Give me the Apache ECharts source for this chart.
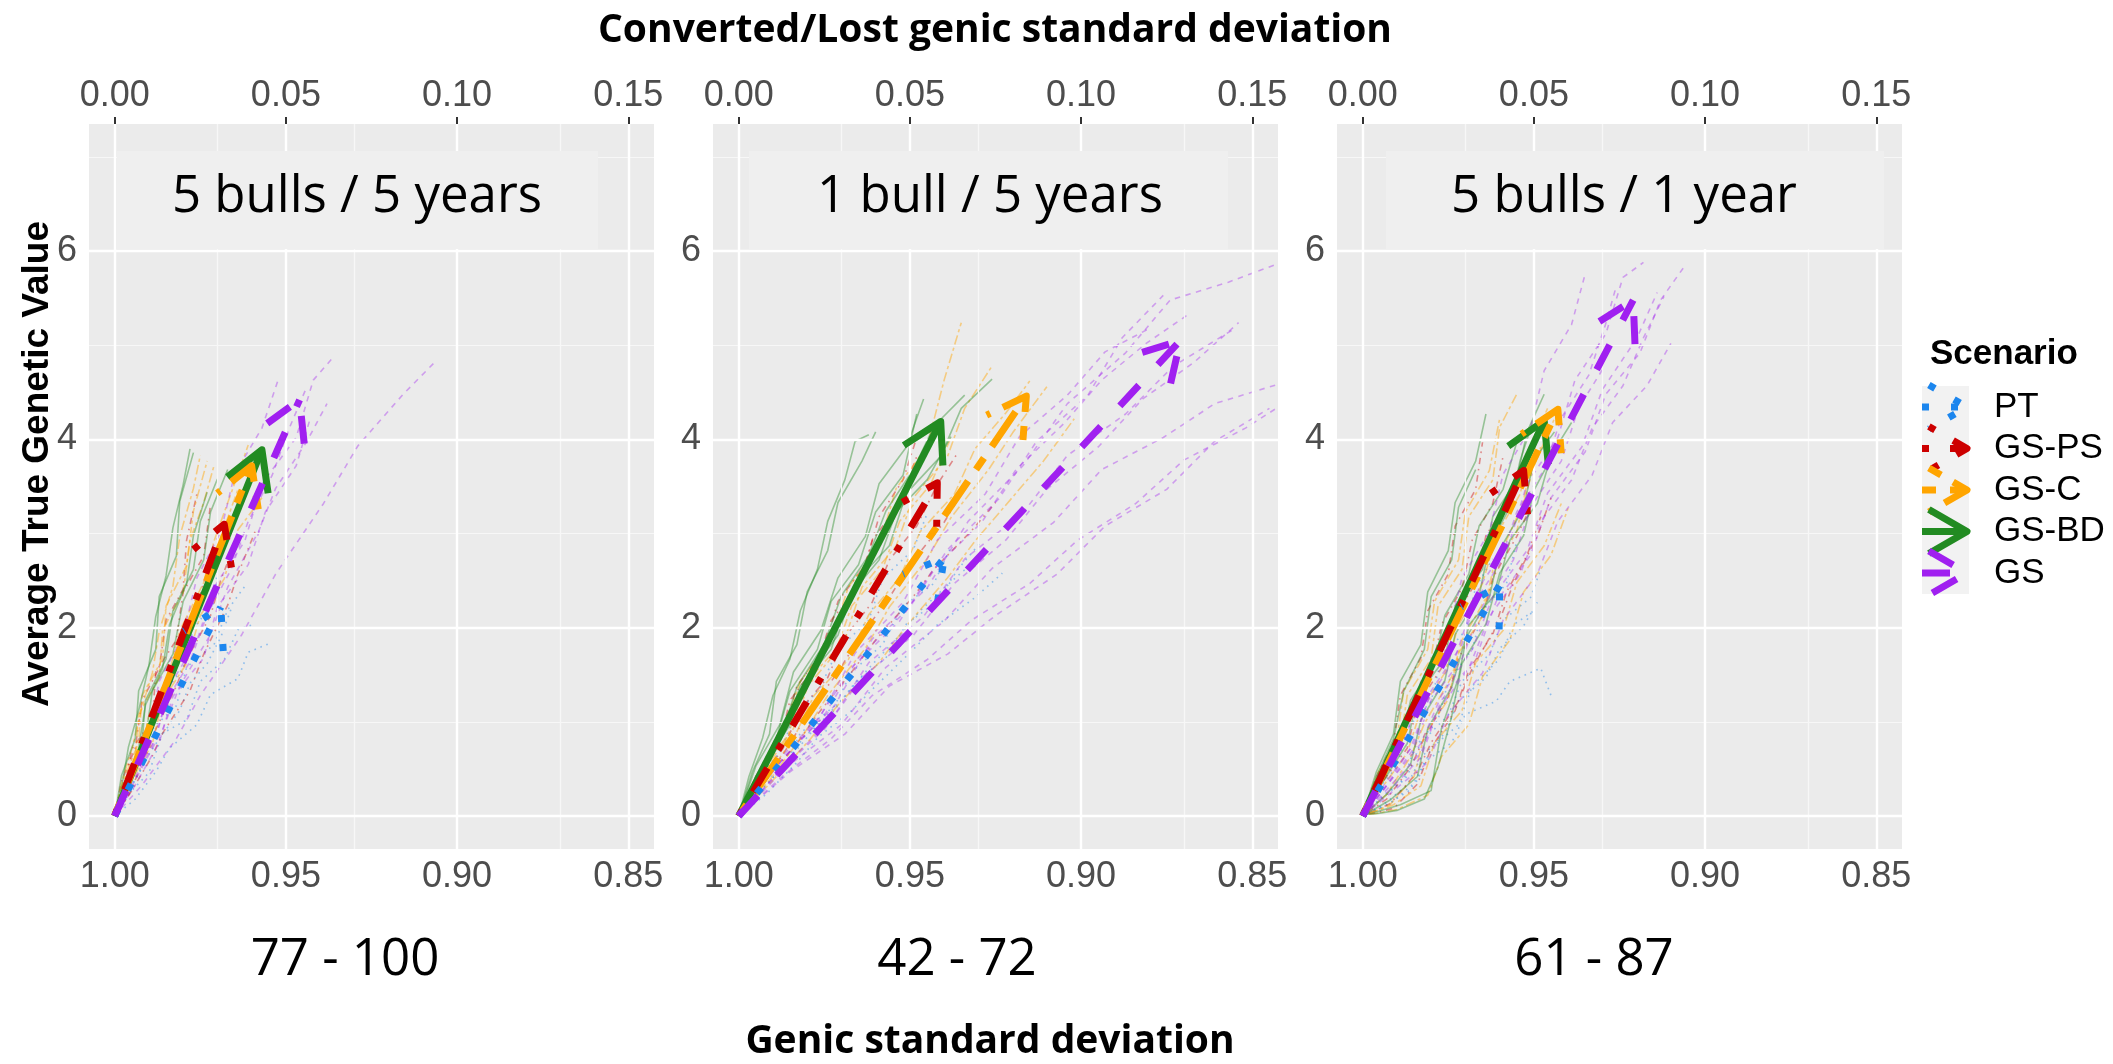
<!DOCTYPE html>
<html>
<head>
<meta charset="utf-8">
<script src="https://cdn.jsdelivr.net/npm/echarts@6/dist/echarts.min.js"></script>
<style>
html, body { margin: 0; padding: 0; background: #fff; }
#chart { width: 2113px; height: 1064px; }
</style>
</head>
<body>
<div id="chart"></div>
<script>
// scenarios, in legend order
const scenarios = ['PT', 'GS-PS', 'GS-C', 'GS-BD', 'GS'];
const panelTitles = ['5 bulls / 5 years', '1 bull / 5 years', '5 bulls / 1 year'];
const panelRanges = ['77 - 100', '42 - 72', '61 - 87'];
const xTicks = [0, 0.05, 0.10, 0.15];
const xMinor = [0.025, 0.075, 0.125];
const yTicks = [0, 2, 4, 6];
const yMinor = [1, 3, 5, 7];

// mean end point (converted/lost genic sd, average TGV) per scenario
const mean55 = [[0.031, 2.22], [0.032, 3.10], [0.040, 3.72], [0.043, 3.89], [0.054, 4.42]];
const mean15 = [[0.060, 2.74], [0.058, 3.54], [0.084, 4.46], [0.059, 4.19], [0.129, 5.05]];
const mean51 = [[0.040, 2.45], [0.047, 3.67], [0.057, 4.32], [0.053, 4.20], [0.079, 5.48]];

// single replicates, 5 bulls / 5 years
const p55PT = [
  [[0,0],[0.003,0.22],[0.008,0.51],[0.011,0.93],[0.018,1.17],[0.021,1.58],[0.029,1.82],[0.033,2.19],[0.038,2.44]],
  [[0,0],[0.005,0.27],[0.010,0.46],[0.014,0.88],[0.021,1.02],[0.025,1.43],[0.032,1.66],[0.036,1.98],[0.041,2.04]],
  [[0,0],[0.004,0.33],[0.006,0.62],[0.012,0.97],[0.015,1.34],[0.020,1.57],[0.023,1.99],[0.029,2.27],[0.030,2.61]],
  [[0,0],[0.006,0.18],[0.012,0.47],[0.016,0.72],[0.024,0.97],[0.028,1.29],[0.036,1.46],[0.039,1.74],[0.045,1.83]],
  [[0,0],[0.004,0.24],[0.009,0.60],[0.013,0.82],[0.019,1.12],[0.022,1.41],[0.027,1.62],[0.031,1.90],[0.034,2.20]]
];
const p55PS = [
  [[0,0],[0.003,0.32],[0.005,0.71],[0.011,1.02],[0.012,1.53],[0.018,1.87],[0.020,2.38],[0.026,2.76],[0.028,3.31]],
  [[0,0],[0.004,0.22],[0.009,0.63],[0.012,0.92],[0.018,1.38],[0.021,1.66],[0.028,2.13],[0.031,2.51],[0.036,2.97]],
  [[0,0],[0.002,0.37],[0.006,0.72],[0.008,1.23],[0.013,1.57],[0.015,2.08],[0.020,2.41],[0.021,2.93],[0.024,3.42]],
  [[0,0],[0.005,0.27],[0.011,0.64],[0.014,0.88],[0.022,1.33],[0.026,1.72],[0.033,2.24],[0.036,2.57],[0.041,3.02]],
  [[0,0],[0.003,0.26],[0.007,0.58],[0.010,0.96],[0.015,1.27],[0.018,1.71],[0.023,2.05],[0.026,2.49],[0.031,2.78]]
];
const p55C = [
  [[0,0],[0.003,0.42],[0.007,0.78],[0.008,1.28],[0.014,1.67],[0.015,2.23],[0.021,2.66],[0.023,3.24],[0.027,3.77]],
  [[0,0],[0.004,0.33],[0.009,0.78],[0.012,1.12],[0.018,1.63],[0.021,2.02],[0.028,2.53],[0.031,2.96],[0.036,3.47]],
  [[0,0],[0.003,0.28],[0.008,0.73],[0.010,1.07],[0.016,1.53],[0.019,1.97],[0.026,2.48],[0.029,2.92],[0.035,3.53],[0.039,3.94]],
  [[0,0],[0.005,0.38],[0.011,0.77],[0.014,1.23],[0.021,1.62],[0.025,2.13],[0.032,2.52],[0.036,3.04],[0.043,3.38]],
  [[0,0],[0.002,0.32],[0.006,0.62],[0.007,1.08],[0.013,1.47],[0.014,1.98],[0.020,2.37],[0.022,2.93],[0.026,3.33],[0.029,3.72]],
  [[0,0],[0.002,0.36],[0.005,0.71],[0.008,1.16],[0.011,1.52],[0.013,1.96],[0.017,2.44],[0.019,2.97],[0.023,3.48],[0.025,3.83]]
];
const p55BD = [
  [[0,0],[0.002,0.43],[0.006,0.82],[0.007,1.33],[0.012,1.77],[0.013,2.33],[0.018,2.76],[0.019,3.34],[0.023,3.86]],
  [[0,0],[0.003,0.37],[0.008,0.77],[0.009,1.23],[0.015,1.67],[0.017,2.18],[0.023,2.62],[0.025,3.13],[0.030,3.58]],
  [[0,0],[0.004,0.42],[0.009,0.82],[0.011,1.33],[0.017,1.72],[0.020,2.28],[0.026,2.72],[0.028,3.23],[0.033,3.68]],
  [[0,0],[0.003,0.32],[0.007,0.72],[0.009,1.18],[0.014,1.57],[0.016,2.03],[0.021,2.47],[0.023,2.98],[0.027,3.44]],
  [[0,0],[0.002,0.30],[0.004,0.73],[0.007,1.12],[0.010,1.60],[0.012,2.12],[0.015,2.55],[0.017,3.06],[0.020,3.52],[0.022,3.90]]
];
const p55GS = [
  [[0,0],[0.005,0.42],[0.012,0.82],[0.016,1.38],[0.024,1.86],[0.029,2.43],[0.038,2.92],[0.043,3.53],[0.053,4.02],[0.058,4.63],[0.064,4.88]],
  [[0,0],[0.006,0.33],[0.013,0.78],[0.017,1.27],[0.026,1.68],[0.030,2.22],[0.039,2.67],[0.044,3.23],[0.053,3.72],[0.057,4.21]],
  [[0,0],[0.004,0.47],[0.010,0.87],[0.013,1.43],[0.020,1.92],[0.024,2.53],[0.031,3.02],[0.035,3.63],[0.043,4.12],[0.048,4.66]],
  [[0,0],[0.008,0.33],[0.018,0.82],[0.025,1.28],[0.037,1.92],[0.047,2.57],[0.061,3.32],[0.071,3.93],[0.084,4.47],[0.094,4.84]],
  [[0,0],[0.006,0.38],[0.014,0.92],[0.019,1.38],[0.028,1.93],[0.033,2.43],[0.042,3.02],[0.047,3.48],[0.056,3.97],[0.062,4.38]],
  [[0,0],[0.005,0.35],[0.011,0.74],[0.015,1.22],[0.022,1.64],[0.027,2.14],[0.034,2.62],[0.039,3.13],[0.046,3.62],[0.051,4.12],[0.056,4.55]]
];

// single replicates, 1 bull / 5 years
const p15PT = [
  [[0,0],[0.006,0.32],[0.014,0.57],[0.018,0.88],[0.028,1.17],[0.033,1.53],[0.042,1.82],[0.048,2.23],[0.057,2.47],[0.062,2.86]],
  [[0,0],[0.008,0.23],[0.017,0.57],[0.023,0.83],[0.033,1.12],[0.040,1.38],[0.051,1.77],[0.058,2.03],[0.069,2.32],[0.077,2.58]],
  [[0,0],[0.005,0.37],[0.012,0.68],[0.016,1.03],[0.024,1.38],[0.029,1.77],[0.038,2.08],[0.042,2.52],[0.051,2.83],[0.055,3.21]],
  [[0,0],[0.007,0.28],[0.015,0.62],[0.021,0.88],[0.031,1.27],[0.037,1.53],[0.047,1.92],[0.053,2.18],[0.063,2.52],[0.070,2.74]],
  [[0,0],[0.006,0.26],[0.013,0.52],[0.019,0.84],[0.027,1.08],[0.034,1.42],[0.043,1.68],[0.049,2.04],[0.058,2.28],[0.064,2.62],[0.071,2.92]]
];
const p15PS = [
  [[0,0],[0.005,0.42],[0.012,0.78],[0.015,1.23],[0.023,1.62],[0.027,2.08],[0.035,2.43],[0.039,2.93],[0.047,3.32],[0.052,3.82]],
  [[0,0],[0.007,0.33],[0.015,0.77],[0.020,1.08],[0.029,1.53],[0.035,1.88],[0.044,2.32],[0.050,2.67],[0.060,3.12],[0.066,3.48]],
  [[0,0],[0.006,0.47],[0.013,0.88],[0.017,1.38],[0.025,1.77],[0.029,2.28],[0.037,2.67],[0.041,3.18],[0.048,3.57],[0.052,4.02]],
  [[0,0],[0.008,0.38],[0.017,0.77],[0.023,1.08],[0.033,1.53],[0.040,1.87],[0.051,2.33],[0.057,2.62],[0.068,3.03],[0.075,3.33]],
  [[0,0],[0.006,0.37],[0.013,0.72],[0.018,1.13],[0.026,1.47],[0.031,1.90],[0.039,2.27],[0.044,2.72],[0.052,3.08],[0.058,3.52],[0.064,3.86]]
];
const p15C = [
  [[0,0],[0.006,0.47],[0.013,0.92],[0.018,1.43],[0.027,1.87],[0.032,2.43],[0.041,2.87],[0.046,3.48],[0.055,3.92],[0.060,4.63],[0.065,5.24]],
  [[0,0],[0.009,0.38],[0.019,0.87],[0.026,1.28],[0.037,1.78],[0.044,2.22],[0.055,2.73],[0.062,3.17],[0.073,3.68],[0.080,4.07],[0.090,4.56]],
  [[0,0],[0.007,0.52],[0.016,0.93],[0.021,1.47],[0.031,1.88],[0.036,2.43],[0.046,2.87],[0.051,3.38],[0.061,3.82],[0.066,4.33],[0.074,4.78]],
  [[0,0],[0.010,0.38],[0.021,0.82],[0.029,1.18],[0.041,1.63],[0.049,2.02],[0.061,2.53],[0.069,2.92],[0.081,3.43],[0.089,3.77],[0.098,4.22]],
  [[0,0],[0.006,0.42],[0.014,0.82],[0.019,1.33],[0.028,1.72],[0.033,2.23],[0.042,2.62],[0.047,3.13],[0.056,3.52],[0.062,4.02]],
  [[0,0],[0.008,0.42],[0.016,0.82],[0.022,1.28],[0.032,1.66],[0.038,2.14],[0.047,2.53],[0.053,3.02],[0.063,3.42],[0.069,3.90],[0.078,4.28],[0.085,4.62]]
];
const p15BD = [
  [[0,0],[0.004,0.47],[0.009,0.87],[0.011,1.43],[0.017,1.82],[0.020,2.38],[0.026,2.82],[0.029,3.33],[0.036,3.77],[0.040,4.08]],
  [[0,0],[0.007,0.52],[0.015,0.97],[0.020,1.48],[0.029,1.92],[0.034,2.48],[0.044,2.87],[0.049,3.43],[0.059,3.82],[0.065,4.33],[0.074,4.64]],
  [[0,0],[0.005,0.53],[0.012,0.97],[0.016,1.53],[0.024,1.97],[0.029,2.53],[0.037,2.97],[0.041,3.53],[0.049,3.92],[0.054,4.43]],
  [[0,0],[0.006,0.47],[0.013,0.87],[0.018,1.38],[0.027,1.77],[0.032,2.33],[0.041,2.72],[0.046,3.23],[0.055,3.57],[0.062,4.03]],
  [[0,0],[0.005,0.42],[0.011,0.82],[0.015,1.33],[0.023,1.77],[0.027,2.28],[0.035,2.67],[0.040,3.23],[0.048,3.62],[0.052,4.27]],
  [[0,0],[0.003,0.42],[0.007,0.83],[0.010,1.28],[0.015,1.67],[0.018,2.18],[0.023,2.62],[0.026,3.13],[0.031,3.57],[0.034,3.98],[0.038,4.05]],
  [[0,0],[0.006,0.45],[0.013,0.92],[0.017,1.37],[0.025,1.83],[0.030,2.34],[0.038,2.77],[0.043,3.24],[0.051,3.68],[0.057,4.14],[0.066,4.47]]
];
const p15GS = [
  [[0,0],[0.013,0.62],[0.028,1.17],[0.039,1.88],[0.055,2.42],[0.067,3.13],[0.083,3.72],[0.096,4.38],[0.113,4.92],[0.126,5.48],[0.143,5.67],[0.157,5.86]],
  [[0,0],[0.014,0.52],[0.030,0.97],[0.043,1.58],[0.060,2.07],[0.074,2.63],[0.092,3.12],[0.106,3.68],[0.124,4.02],[0.139,4.38],[0.157,4.58]],
  [[0,0],[0.012,0.57],[0.025,1.07],[0.035,1.68],[0.050,2.22],[0.061,2.83],[0.076,3.37],[0.087,3.98],[0.102,4.47],[0.112,5.08],[0.124,5.53]],
  [[0,0],[0.015,0.47],[0.031,0.87],[0.044,1.38],[0.061,1.72],[0.075,2.13],[0.093,2.57],[0.107,3.08],[0.125,3.47],[0.139,3.98],[0.155,4.33]],
  [[0,0],[0.011,0.57],[0.024,1.07],[0.034,1.73],[0.048,2.27],[0.058,2.93],[0.072,3.42],[0.082,4.03],[0.096,4.47],[0.107,4.93],[0.120,5.18]],
  [[0,0],[0.013,0.52],[0.027,1.02],[0.038,1.63],[0.054,2.12],[0.066,2.73],[0.083,3.22],[0.096,3.83],[0.113,4.27],[0.127,4.78],[0.145,5.18]],
  [[0,0],[0.012,0.48],[0.025,0.92],[0.036,1.47],[0.051,1.92],[0.063,2.47],[0.078,2.93],[0.090,3.47],[0.105,3.92],[0.118,4.43],[0.133,4.82],[0.146,5.24]],
  [[0,0],[0.013,0.43],[0.027,0.82],[0.039,1.28],[0.055,1.66],[0.068,2.08],[0.085,2.47],[0.099,2.93],[0.116,3.32],[0.130,3.78],[0.148,4.12],[0.157,4.33]],
  [[0,0],[0.011,0.52],[0.023,1.02],[0.033,1.58],[0.047,2.07],[0.057,2.63],[0.071,3.12],[0.081,3.68],[0.095,4.17],[0.106,4.63],[0.119,5.02],[0.131,5.32]]
];

// single replicates, 5 bulls / 1 year
const p51PT = [
  [[0,0],[0.005,0.17],[0.012,0.38],[0.015,0.72],[0.022,1.02],[0.025,1.43],[0.032,1.77],[0.035,2.18],[0.042,2.47],[0.045,2.92]],
  [[0,0],[0.007,0.12],[0.014,0.28],[0.018,0.57],[0.026,0.78],[0.030,1.08],[0.039,1.22],[0.043,1.43],[0.052,1.57],[0.055,1.28]],
  [[0,0],[0.004,0.27],[0.010,0.52],[0.013,0.93],[0.020,1.22],[0.023,1.68],[0.030,1.97],[0.033,2.43],[0.038,2.73]],
  [[0,0],[0.006,0.22],[0.013,0.42],[0.017,0.78],[0.025,1.07],[0.029,1.43],[0.037,1.72],[0.041,2.08],[0.049,2.32],[0.052,2.62]],
  [[0,0],[0.008,0.13],[0.016,0.38],[0.020,0.72],[0.028,0.97],[0.032,1.38],[0.040,1.67],[0.044,2.03],[0.050,2.18]],
  [[0,0],[0.006,0.12],[0.013,0.33],[0.017,0.62],[0.024,0.88],[0.028,1.22],[0.036,1.47],[0.040,1.78],[0.047,2.02],[0.051,2.27]]
];
const p51PS = [
  [[0,0],[0.005,0.32],[0.011,0.68],[0.014,1.13],[0.020,1.52],[0.023,2.03],[0.029,2.42],[0.032,2.93],[0.038,3.32],[0.041,3.82]],
  [[0,0],[0.007,0.18],[0.014,0.52],[0.018,0.83],[0.025,1.27],[0.028,1.68],[0.035,2.12],[0.038,2.53],[0.045,2.97],[0.049,3.28]],
  [[0,0],[0.004,0.42],[0.009,0.78],[0.011,1.28],[0.017,1.68],[0.019,2.18],[0.025,2.57],[0.027,3.08],[0.033,3.47],[0.035,3.97]],
  [[0,0],[0.008,0.13],[0.016,0.47],[0.020,0.78],[0.028,1.22],[0.032,1.57],[0.040,2.08],[0.044,2.47],[0.051,2.97],[0.055,3.38]],
  [[0,0],[0.006,0.37],[0.013,0.72],[0.016,1.18],[0.023,1.57],[0.026,2.08],[0.033,2.47],[0.036,2.98],[0.043,3.37],[0.046,3.72]],
  [[0,0],[0.009,0.08],[0.016,0.34],[0.020,0.72],[0.027,1.12],[0.031,1.55],[0.038,1.93],[0.042,2.38],[0.048,2.77],[0.052,3.18]]
];
const p51C = [
  [[0,0],[0.005,0.37],[0.011,0.77],[0.013,1.28],[0.020,1.67],[0.022,2.23],[0.029,2.62],[0.031,3.18],[0.038,3.57],[0.040,4.13],[0.045,4.48]],
  [[0,0],[0.007,0.23],[0.014,0.63],[0.018,0.98],[0.026,1.48],[0.029,1.87],[0.037,2.38],[0.040,2.77],[0.047,3.33],[0.050,3.72],[0.056,4.22]],
  [[0,0],[0.009,0.12],[0.017,0.32],[0.021,0.78],[0.029,1.12],[0.033,1.63],[0.041,1.97],[0.045,2.48],[0.053,2.87],[0.058,3.32]],
  [[0,0],[0.004,0.43],[0.010,0.82],[0.012,1.33],[0.019,1.77],[0.021,2.28],[0.028,2.72],[0.030,3.23],[0.037,3.67],[0.040,4.22]],
  [[0,0],[0.006,0.32],[0.013,0.67],[0.017,1.13],[0.024,1.52],[0.028,2.03],[0.035,2.47],[0.039,2.98],[0.046,3.42],[0.049,3.93],[0.054,4.33]],
  [[0,0],[0.010,0.07],[0.019,0.22],[0.023,0.63],[0.031,0.97],[0.035,1.48],[0.043,1.87],[0.047,2.38],[0.055,2.77],[0.060,3.27]],
  [[0,0],[0.008,0.12],[0.015,0.42],[0.018,0.86],[0.025,1.24],[0.028,1.73],[0.035,2.12],[0.038,2.61],[0.045,3.02],[0.048,3.53],[0.052,3.92]]
];
const p51BD = [
  [[0,0],[0.004,0.47],[0.009,0.87],[0.011,1.43],[0.017,1.82],[0.019,2.38],[0.025,2.82],[0.027,3.33],[0.033,3.77],[0.036,4.27]],
  [[0,0],[0.006,0.37],[0.013,0.77],[0.016,1.28],[0.024,1.67],[0.027,2.23],[0.035,2.62],[0.038,3.18],[0.045,3.57],[0.048,4.08],[0.053,4.48]],
  [[0,0],[0.008,0.17],[0.016,0.42],[0.019,0.93],[0.026,1.37],[0.030,1.88],[0.037,2.32],[0.040,2.83],[0.047,3.27],[0.050,3.78],[0.056,4.08]],
  [[0,0],[0.005,0.32],[0.011,0.72],[0.014,1.23],[0.021,1.62],[0.024,2.13],[0.031,2.57],[0.034,3.08],[0.041,3.47],[0.045,3.97]],
  [[0,0],[0.011,0.12],[0.020,0.27],[0.023,0.93],[0.028,1.47],[0.031,2.03],[0.039,2.37],[0.043,2.93],[0.051,3.32],[0.055,3.83],[0.061,4.18]],
  [[0,0],[0.004,0.42],[0.009,0.82],[0.012,1.33],[0.018,1.77],[0.020,2.33],[0.026,2.72],[0.028,3.28],[0.033,3.68]],
  [[0,0],[0.010,0.06],[0.018,0.18],[0.022,0.52],[0.026,1.06],[0.029,1.62],[0.036,2.04],[0.040,2.58],[0.047,2.98],[0.050,3.46],[0.056,3.87]],
  [[0,0],[0.007,0.23],[0.014,0.55],[0.017,1.02],[0.024,1.44],[0.027,1.93],[0.034,2.34],[0.037,2.87],[0.043,3.28],[0.046,3.78],[0.050,4.22]]
];
const p51GS = [
  [[0,0],[0.007,0.37],[0.015,0.77],[0.020,1.33],[0.029,1.82],[0.034,2.43],[0.043,2.92],[0.048,3.53],[0.057,4.02],[0.062,4.63],[0.071,5.12],[0.076,5.72],[0.082,5.88]],
  [[0,0],[0.008,0.32],[0.017,0.67],[0.023,1.23],[0.033,1.67],[0.039,2.28],[0.049,2.77],[0.055,3.38],[0.065,3.87],[0.071,4.48],[0.081,4.92],[0.087,5.48],[0.094,5.84]],
  [[0,0],[0.006,0.42],[0.013,0.87],[0.017,1.43],[0.025,1.92],[0.029,2.53],[0.037,3.02],[0.041,3.63],[0.049,4.12],[0.053,4.73],[0.061,5.22],[0.065,5.76]],
  [[0,0],[0.009,0.27],[0.019,0.57],[0.025,1.08],[0.035,1.52],[0.041,2.08],[0.051,2.57],[0.057,3.13],[0.067,3.62],[0.073,4.18],[0.083,4.57],[0.090,5.02]],
  [[0,0],[0.007,0.32],[0.015,0.72],[0.020,1.23],[0.029,1.67],[0.035,2.23],[0.044,2.72],[0.049,3.28],[0.058,3.77],[0.063,4.33],[0.070,4.74]],
  [[0,0],[0.008,0.37],[0.017,0.77],[0.023,1.28],[0.032,1.77],[0.038,2.33],[0.048,2.82],[0.054,3.43],[0.064,3.92],[0.070,4.53],[0.080,5.07],[0.086,5.56]],
  [[0,0],[0.008,0.28],[0.017,0.62],[0.022,1.12],[0.031,1.57],[0.037,2.12],[0.046,2.57],[0.052,3.13],[0.061,3.57],[0.067,4.12],[0.076,4.57],[0.082,5.08],[0.088,5.52]],
  [[0,0],[0.007,0.33],[0.014,0.72],[0.019,1.22],[0.027,1.68],[0.032,2.23],[0.040,2.68],[0.045,3.23],[0.053,3.68],[0.058,4.23],[0.066,4.68],[0.071,5.23],[0.074,5.62]]
];

const panelMeans = [mean55, mean15, mean51];
const panelReps = [
  [p55PT, p55PS, p55C, p55BD, p55GS],
  [p15PT, p15PS, p15C, p15BD, p15GS],
  [p51PT, p51PS, p51C, p51BD, p51GS]
];

// styles (ggplot-like line types)
const colors = ['#1c86ee', '#cd0000', '#ffa500', '#228b22', '#a020f0'];
const arrowDash = [[7, 22], [7, 21, 28, 21], [14, 14, 42, 14], null, [28, 28]];
const thinDash = [[1.6, 4.8], [1.6, 4.8, 6.4, 4.8], [3.2, 3.2, 9.6, 3.2], null, [5.5, 5.5]];
const thinOpacity = [0.45, 0.42, 0.45, 0.42, 0.38];
const drawOrder = [3, 2, 1, 0, 4];
const gridLefts = [89, 713, 1337];
const gridTop = 124, gridW = 565, gridH = 725;
const headLen = 44;

const chart = echarts.init(document.getElementById('chart'));

const grid = [], xAxis = [], yAxis = [], series = [];
const tickStyle = { show: true, length: 7, lineStyle: { color: '#333333', width: 2 } };
const labelFont = { fontSize: 36, color: '#4d4d4d', fontFamily: 'Liberation Sans, Arial, sans-serif' };
const majorLine = { color: '#ffffff', width: 2.4, type: 'solid' };
const minorLine = { color: '#f7f7f7', width: 1.2, type: 'solid' };

function arrowStyle(s) {
  return { stroke: colors[s], fill: null, lineWidth: 7, lineDash: arrowDash[s], lineCap: 'butt', lineJoin: 'round' };
}

gridLefts.forEach((left, k) => {
  grid.push({ left: left, top: gridTop, width: gridW, height: gridH, show: true, backgroundColor: '#ebebeb', borderWidth: 0 });
  ['bottom', 'top'].forEach(pos => {
    xAxis.push({
      type: 'value', gridIndex: k, position: pos, min: -0.0075, max: 0.1575,
      axisLine: { show: false },
      axisTick: Object.assign({ customValues: xTicks }, tickStyle),
      splitLine: { show: false },
      axisLabel: Object.assign({
        customValues: xTicks, margin: 10,
        formatter: pos === 'top' ? v => v.toFixed(2) : v => (1 - v).toFixed(2)
      }, labelFont)
    });
  });
  yAxis.push({
    type: 'value', gridIndex: k, min: -0.35, max: 7.35,
    axisLine: { show: false },
    axisTick: Object.assign({ customValues: yTicks }, tickStyle),
    splitLine: { show: false },
    axisLabel: Object.assign({ customValues: yTicks, margin: 12 }, labelFont)
  });

  const xi = 2 * k, yi = k;
  // panel grid lines
  series.push({
    type: 'line', xAxisIndex: xi, yAxisIndex: yi, data: [], silent: true, z: 1,
    markLine: {
      silent: true, animation: false, symbol: ['none', 'none'], label: { show: false },
      emphasis: { disabled: true },
      data: [].concat(
        xMinor.map(v => ({ xAxis: v, lineStyle: minorLine })),
        yMinor.map(v => ({ yAxis: v, lineStyle: minorLine })),
        xTicks.map(v => ({ xAxis: v, lineStyle: majorLine })),
        yTicks.map(v => ({ yAxis: v, lineStyle: majorLine }))
      )
    }
  });
  // replicates
  panelReps[k].forEach((lines, s) => {
    lines.forEach(pts => {
      series.push({
        type: 'line', name: scenarios[s], xAxisIndex: xi, yAxisIndex: yi, data: pts,
        showSymbol: false, symbol: 'none', silent: true, z: 3, animation: false,
        lineStyle: { color: colors[s], width: 1.6, opacity: thinOpacity[s], type: thinDash[s] || 'solid' }
      });
    });
  });
  // mean arrows
  series.push({
    type: 'custom', xAxisIndex: xi, yAxisIndex: yi, z: 10, silent: true, animation: false,
    data: drawOrder.map(s => [panelMeans[k][s][0], panelMeans[k][s][1], s]),
    encode: { x: 0, y: 1 },
    renderItem(params, api) {
      const s = api.value(2);
      const o = api.coord([0, 0]);
      const t = api.coord([api.value(0), api.value(1)]);
      const ang = Math.atan2(t[1] - o[1], t[0] - o[0]);
      const a1 = ang + Math.PI - Math.PI / 6, a2 = ang + Math.PI + Math.PI / 6;
      return {
        type: 'group',
        children: [
          { type: 'line', shape: { x1: o[0], y1: o[1], x2: t[0], y2: t[1] }, style: arrowStyle(s) },
          { type: 'polyline', shape: { points: [
              [t[0] + headLen * Math.cos(a1), t[1] + headLen * Math.sin(a1)], t,
              [t[0] + headLen * Math.cos(a2), t[1] + headLen * Math.sin(a2)]] }, style: arrowStyle(s) }
        ]
      };
    }
  });
});

// annotation texts
const calibri = 'Open Sans, Noto Sans, sans-serif';
const arial = 'Liberation Sans, Arial, sans-serif';
function txt(text, x, y, size, weight, family, align) {
  return { type: 'text', z: 120, x: x, y: y, style: {
    text: text, x: 0, y: 0, fontSize: size, fontWeight: weight, fontFamily: family, fill: '#000',
    align: align || 'center', verticalAlign: 'middle' } };
}
const graphic = [];
graphic.push(txt('Converted/Lost genic standard deviation', 995, 31, 39, 'bold', calibri));
graphic.push(txt('Genic standard deviation', 990, 1042, 39, 'bold', calibri));
const boxSpans = [[117, 598], [749, 1228], [1386, 1884]];
const titleCenters = [357, 990, 1624];
const rangeCenters = [345, 957, 1594];
panelTitles.forEach((t, k) => {
  graphic.push({ type: 'rect', z: 110, shape: { x: boxSpans[k][0], y: 151, width: boxSpans[k][1] - boxSpans[k][0], height: 98 },
    style: { fill: '#efefef' } });
  graphic.push(txt(t, titleCenters[k], 197, 51, 'normal', calibri));
  graphic.push(txt(panelRanges[k], rangeCenters[k], 960, 51, 'normal', calibri));
});
const yTitle = txt('Average True Genetic Value', 38, 464, 37, 'bold', arial);
yTitle.rotation = Math.PI / 2;
graphic.push(yTitle);

// legend
graphic.push(txt('Scenario', 1930, 354, 35, 'bold', arial, 'left'));
graphic.push({ type: 'rect', z: 100, shape: { x: 1922, y: 386, width: 47, height: 208 }, style: { fill: '#f2f2f2' } });
scenarios.forEach((name, s) => {
  const yc = 407 + s * 41.5, tipX = 1967;
  const dx = headLen * Math.cos(Math.PI / 6), dy = headLen * Math.sin(Math.PI / 6);
  graphic.push({ type: 'line', z: 105, shape: { x1: 1922, y1: yc, x2: tipX, y2: yc }, style: arrowStyle(s) });
  graphic.push({ type: 'polyline', z: 105, shape: { points: [[tipX - dx, yc - dy], [tipX, yc], [tipX - dx, yc + dy]] }, style: arrowStyle(s) });
  graphic.push(txt(name, 1994, yc, 35, 'normal', arial, 'left'));
});

chart.setOption({
  animation: false,
  backgroundColor: '#ffffff',
  grid: grid,
  xAxis: xAxis,
  yAxis: yAxis,
  series: series,
  graphic: graphic
});
</script>
</body>
</html>
